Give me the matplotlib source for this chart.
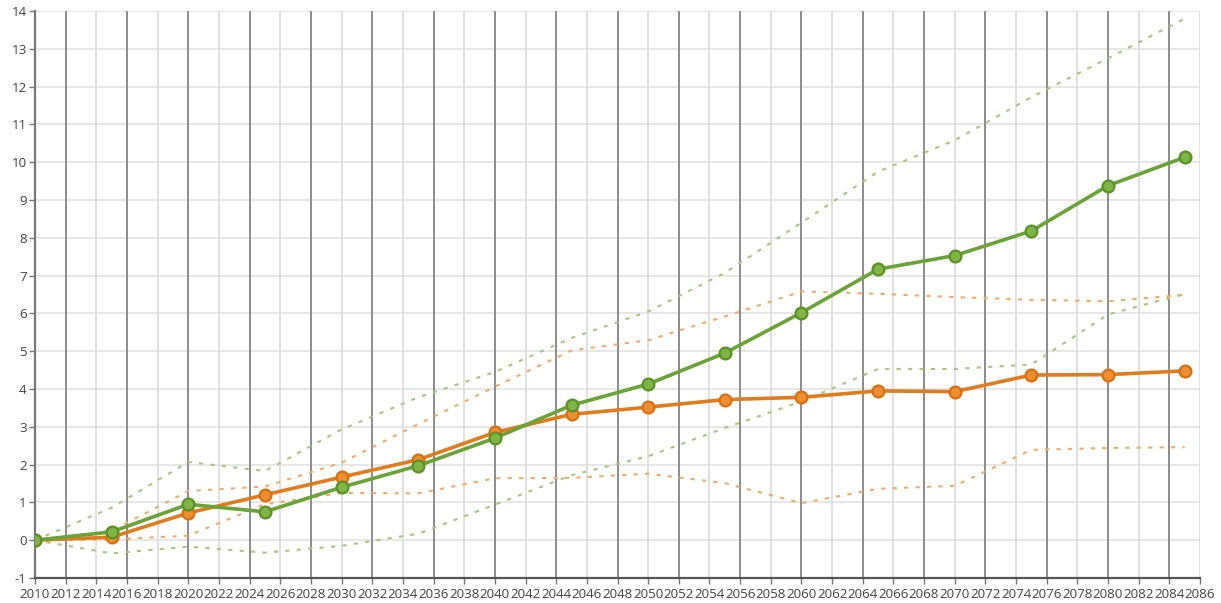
import matplotlib
matplotlib.use("Agg")
import matplotlib.pyplot as plt

years = [2010, 2015, 2020, 2025, 2030, 2035, 2040, 2045, 2050, 2055, 2060, 2065, 2070, 2075, 2080, 2085]

green_mean  = [0, 0.22, 0.95, 0.75, 1.40, 1.97, 2.70, 3.57, 4.13, 4.95, 6.02, 7.17, 7.53, 8.18, 9.38, 10.13]
green_upper = [0, 0.86, 2.07, 1.83, 2.93, 3.78, 4.45, 5.35, 6.05, 7.07, 8.40, 9.75, 10.58, 11.72, 12.75, 13.80]
green_lower = [0, -0.35, -0.17, -0.33, -0.15, 0.17, 0.94, 1.72, 2.22, 2.97, 3.67, 4.53, 4.53, 4.65, 5.97, 6.52]

orange_mean  = [0, 0.08, 0.72, 1.20, 1.67, 2.13, 2.85, 3.33, 3.52, 3.72, 3.78, 3.95, 3.93, 4.37, 4.38, 4.48]
orange_upper = [0, 0.25, 1.30, 1.42, 2.05, 3.07, 4.06, 5.02, 5.29, 5.92, 6.58, 6.52, 6.43, 6.36, 6.32, 6.49]
orange_lower = [0, 0.02, 0.12, 0.95, 1.25, 1.24, 1.64, 1.65, 1.76, 1.51, 0.98, 1.36, 1.44, 2.39, 2.44, 2.46]

x_ticks = list(range(2010, 2087, 2))
y_ticks = list(range(-1, 15))

plt.rcParams['font.family'] = ['Open Sans', 'DejaVu Sans']

fig = plt.figure(figsize=(12.21, 6.03), dpi=100)
ax = fig.add_axes([35/1221, 25/603, 1165/1221, 567/603])

ax.set_xlim(2010, 2086)
ax.set_ylim(-1, 14)

# grid
for yv in y_ticks:
    ax.axhline(yv, color='#e3e3e3', lw=1.2, zorder=0)
for xv in x_ticks:
    if xv in (2010, 2086):
        continue
    dark = ((xv - 2012) % 4 == 0)
    ax.axvline(xv, color='#8c8c8c' if dark else '#dcdcdc', lw=1.4 if dark else 1.2, zorder=0)

GREEN = '#6aa336'
GREEN_EDGE = '#5a9226'
GREEN_FILL = '#7fb446'
ORANGE = '#e17c1c'
ORANGE_EDGE = '#d86f10'
ORANGE_FILL = '#ee8e30'

dash = (0, (2.0, 3.5))
ax.plot(years, green_upper, color='#a3c97e', lw=1.5, ls=dash, zorder=2)
ax.plot(years, green_lower, color='#a3c97e', lw=1.5, ls=dash, zorder=2)
ax.plot(years, orange_upper, color='#f3aa66', lw=1.5, ls=dash, zorder=2)
ax.plot(years, orange_lower, color='#f3aa66', lw=1.5, ls=dash, zorder=2)

ax.plot(years, green_mean, color=GREEN, lw=2.6, marker='o', ms=8.5,
        mfc=GREEN_FILL, mec=GREEN_EDGE, mew=1.6, zorder=4)
ax.plot(years, orange_mean, color=ORANGE, lw=2.6, marker='o', ms=8.5,
        mfc=ORANGE_FILL, mec=ORANGE_EDGE, mew=1.6, zorder=3)

ax.set_xticks(x_ticks)
ax.set_xticklabels([str(v) for v in x_ticks])
ax.set_yticks(y_ticks)
ax.set_yticklabels([str(v) for v in y_ticks])

for s in ['top', 'right']:
    ax.spines[s].set_visible(False)
ax.spines['left'].set_color('#777777')
ax.spines['left'].set_linewidth(1.6)
ax.spines['bottom'].set_color('#555555')
ax.spines['bottom'].set_linewidth(1.6)
ax.axvline(2086, color='#dcdcdc', lw=1.2, zorder=0)

ax.tick_params(axis='both', colors='#777777', length=4, width=1, labelsize=9.6, labelcolor='#444444', pad=2)
ax.tick_params(axis='x', pad=3)

fig.savefig('out.png', dpi=100, facecolor='white')
